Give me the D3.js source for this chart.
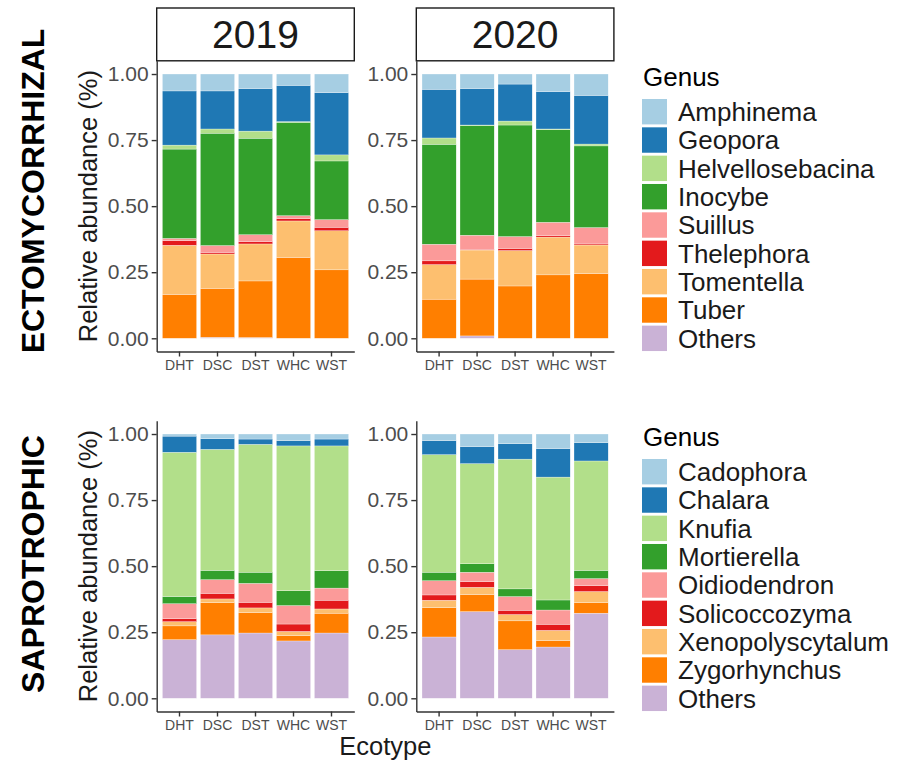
<!DOCTYPE html>
<html>
<head>
<meta charset="utf-8">
<script src="https://cdn.jsdelivr.net/npm/d3@7"></script>
<style>
  body { margin: 0; background: #fff; }
  svg { display: block; font-family: "Liberation Sans", Arial, Helvetica, sans-serif; }
</style>
</head>
<body>
<svg id="chart" width="901" height="764"></svg>
<script>
// Ecotypes on the x axis, sampling years as facet columns
const ecotypes = ["DHT", "DSC", "DST", "WHC", "WST"];
const years = ["2019", "2020"];
const yTicks = [0, 0.25, 0.5, 0.75, 1];

// Genus levels, first level is drawn on top of each bar
const ecmGenera = ["Amphinema", "Geopora", "Helvellosebacina", "Inocybe", "Suillus",
                   "Thelephora", "Tomentella", "Tuber", "Others"];
const sapGenera = ["Cadophora", "Chalara", "Knufia", "Mortierella", "Oidiodendron",
                   "Solicoccozyma", "Xenopolyscytalum", "Zygorhynchus", "Others"];

// Relative abundance, one row per genus, columns follow `ecotypes`
const ecm2019 = [
  [0.064, 0.064, 0.055, 0.043, 0.071],
  [0.205, 0.144, 0.161, 0.137, 0.235],
  [0.015, 0.016, 0.027, 0.003, 0.023],
  [0.338, 0.425, 0.365, 0.353, 0.222],
  [0.009, 0.026, 0.026, 0.011, 0.029],
  [0.017, 0.006, 0.009, 0.009, 0.013],
  [0.186, 0.130, 0.140, 0.138, 0.148],
  [0.166, 0.185, 0.214, 0.306, 0.259],
  [0.000, 0.004, 0.003, 0.000, 0.000]
];
const ecm2020 = [
  [0.058, 0.055, 0.038, 0.067, 0.081],
  [0.184, 0.138, 0.140, 0.141, 0.184],
  [0.024, 0.002, 0.015, 0.003, 0.007],
  [0.378, 0.415, 0.422, 0.350, 0.309],
  [0.063, 0.053, 0.045, 0.051, 0.062],
  [0.014, 0.003, 0.008, 0.005, 0.004],
  [0.131, 0.110, 0.134, 0.143, 0.108],
  [0.148, 0.215, 0.198, 0.240, 0.245],
  [0.000, 0.009, 0.000, 0.000, 0.000]
];
const sap2019 = [
  [0.008, 0.018, 0.019, 0.025, 0.019],
  [0.061, 0.040, 0.020, 0.020, 0.026],
  [0.546, 0.458, 0.484, 0.548, 0.472],
  [0.027, 0.035, 0.042, 0.056, 0.066],
  [0.057, 0.052, 0.072, 0.070, 0.046],
  [0.011, 0.021, 0.021, 0.028, 0.033],
  [0.016, 0.014, 0.018, 0.016, 0.016],
  [0.052, 0.122, 0.077, 0.020, 0.075],
  [0.222, 0.240, 0.247, 0.217, 0.247]
];
const sap2020 = [
  [0.025, 0.048, 0.037, 0.055, 0.033],
  [0.053, 0.064, 0.058, 0.108, 0.069],
  [0.445, 0.379, 0.491, 0.465, 0.414],
  [0.032, 0.032, 0.029, 0.038, 0.031],
  [0.054, 0.036, 0.052, 0.054, 0.027],
  [0.020, 0.021, 0.016, 0.023, 0.022],
  [0.028, 0.028, 0.024, 0.039, 0.042],
  [0.111, 0.064, 0.109, 0.024, 0.040],
  [0.232, 0.328, 0.184, 0.194, 0.322]
];

const palette = d3.schemePaired.slice(0, 9);

const svg = d3.select("#chart");

// Facet grid geometry
const cols = [{ x0: 156.7, x1: 354.3 }, { x0: 416.3, x1: 613.9 }];
const rows = [
  { label: "ECTOMYCORRHIZAL", genera: ecmGenera, tables: [ecm2019, ecm2020], top: 60.8, bottom: 351.5, legendY: 77 },
  { label: "SAPROTROPHIC", genera: sapGenera, tables: [sap2019, sap2020], top: 420.8, bottom: 711.5, legendY: 437 }
];

const axisColor = "#333333";
const tickTextColor = "#4d4d4d";

function toRecords(genera, table) {
  return ecotypes.map((e, j) => {
    const rec = { ecotype: e };
    genera.forEach((g, i) => { rec[g] = table[i][j]; });
    return rec;
  });
}

rows.forEach((row, ri) => {
  const y = d3.scaleLinear().domain([-0.05, 1.05]).range([row.bottom, row.top]);
  const color = d3.scaleOrdinal().domain(row.genera).range(palette);
  const stack = d3.stack().keys(row.genera.slice().reverse());

  cols.forEach((col, ci) => {
    const x = d3.scaleBand().domain(ecotypes).range([col.x0, col.x1])
      .paddingInner(0.1).paddingOuter(0.15);
    const series = stack(toRecords(row.genera, row.tables[ci]));
    const g = svg.append("g");

    g.selectAll("g.layer").data(series).join("g")
      .attr("class", "layer")
      .attr("fill", d => color(d.key))
      .selectAll("rect").data(d => d).join("rect")
      .attr("x", d => x(d.data.ecotype))
      .attr("width", x.bandwidth())
      .attr("y", d => y(d[1]))
      .attr("height", d => Math.max(0, y(d[0]) - y(d[1])))
      .attr("stroke", "#ffffff")
      .attr("stroke-width", 0.4)
      .attr("stroke-opacity", 0.7);

    // y axis
    const ya = g.append("g").attr("transform", `translate(${col.x0},0)`)
      .call(d3.axisLeft(y).tickValues(yTicks).tickFormat(d3.format(".2f"))
        .tickSize(5).tickSizeOuter(0).tickPadding(3));
    ya.select(".domain").attr("stroke", axisColor).attr("stroke-width", 1.4);
    ya.selectAll(".tick line").attr("stroke", axisColor).attr("stroke-width", 1.4);
    ya.selectAll(".tick text").attr("fill", tickTextColor).style("font-size", "21px")
      .style("font-family", "\"Liberation Sans\", Arial, sans-serif");

    // x axis
    const xa = g.append("g").attr("transform", `translate(0,${row.bottom})`)
      .call(d3.axisBottom(x).tickSize(5).tickSizeOuter(0).tickPadding(4));
    xa.select(".domain").attr("stroke", axisColor).attr("stroke-width", 1.4);
    xa.selectAll(".tick line").attr("stroke", axisColor).attr("stroke-width", 1.4);
    xa.selectAll(".tick text").attr("fill", tickTextColor).style("font-size", "14px")
      .style("font-family", "\"Liberation Sans\", Arial, sans-serif");

    // year strips above the first row
    if (ri === 0) {
      svg.append("rect")
        .attr("x", col.x0).attr("y", 8)
        .attr("width", col.x1 - col.x0).attr("height", row.top - 8)
        .attr("fill", "#ffffff").attr("stroke", "#1a1a1a").attr("stroke-width", 1.4);
      svg.append("text")
        .attr("x", (col.x0 + col.x1) / 2).attr("y", 48)
        .attr("text-anchor", "middle")
        .attr("fill", "#1a1a1a")
        .style("font-size", "39px")
        .text(years[ci]);
    }
  });

  const midY = y(0.5);

  // y axis title
  svg.append("text")
    .attr("transform", `translate(97,${midY}) rotate(-90)`)
    .attr("text-anchor", "middle")
    .attr("fill", "#1a1a1a")
    .style("font-size", "25.5px")
    .text("Relative abundance (%)");

  // functional group label
  svg.append("text")
    .attr("transform", `translate(44,${ri === 0 ? 191 : 564}) rotate(-90)`)
    .attr("text-anchor", "middle")
    .attr("fill", "#000")
    .style("font-size", "32px")
    .style("font-weight", "bold")
    .text(row.label);

  // legend
  const lg = svg.append("g").attr("transform", `translate(642,${row.legendY})`);
  lg.append("text").attr("x", 1).attr("y", 9).attr("fill", "#000")
    .style("font-size", "26px").text("Genus");
  const items = lg.selectAll("g.item").data(row.genera).join("g")
    .attr("class", "item")
    .attr("transform", (d, i) => `translate(0,${34.7 + i * 28.33})`);
  items.append("rect")
    .attr("x", 0).attr("y", -12.7).attr("width", 25).attr("height", 25.4)
    .attr("fill", d => color(d));
  items.append("text")
    .attr("x", 36).attr("y", 9.3)
    .attr("fill", "#1a1a1a")
    .style("font-size", "26px")
    .text(d => d);
});

// shared x axis title
svg.append("text")
  .attr("x", (cols[0].x0 + cols[1].x1) / 2).attr("y", 755)
  .attr("text-anchor", "middle")
  .attr("fill", "#1a1a1a")
  .style("font-size", "25.5px")
  .text("Ecotype");
</script>
</body>
</html>
